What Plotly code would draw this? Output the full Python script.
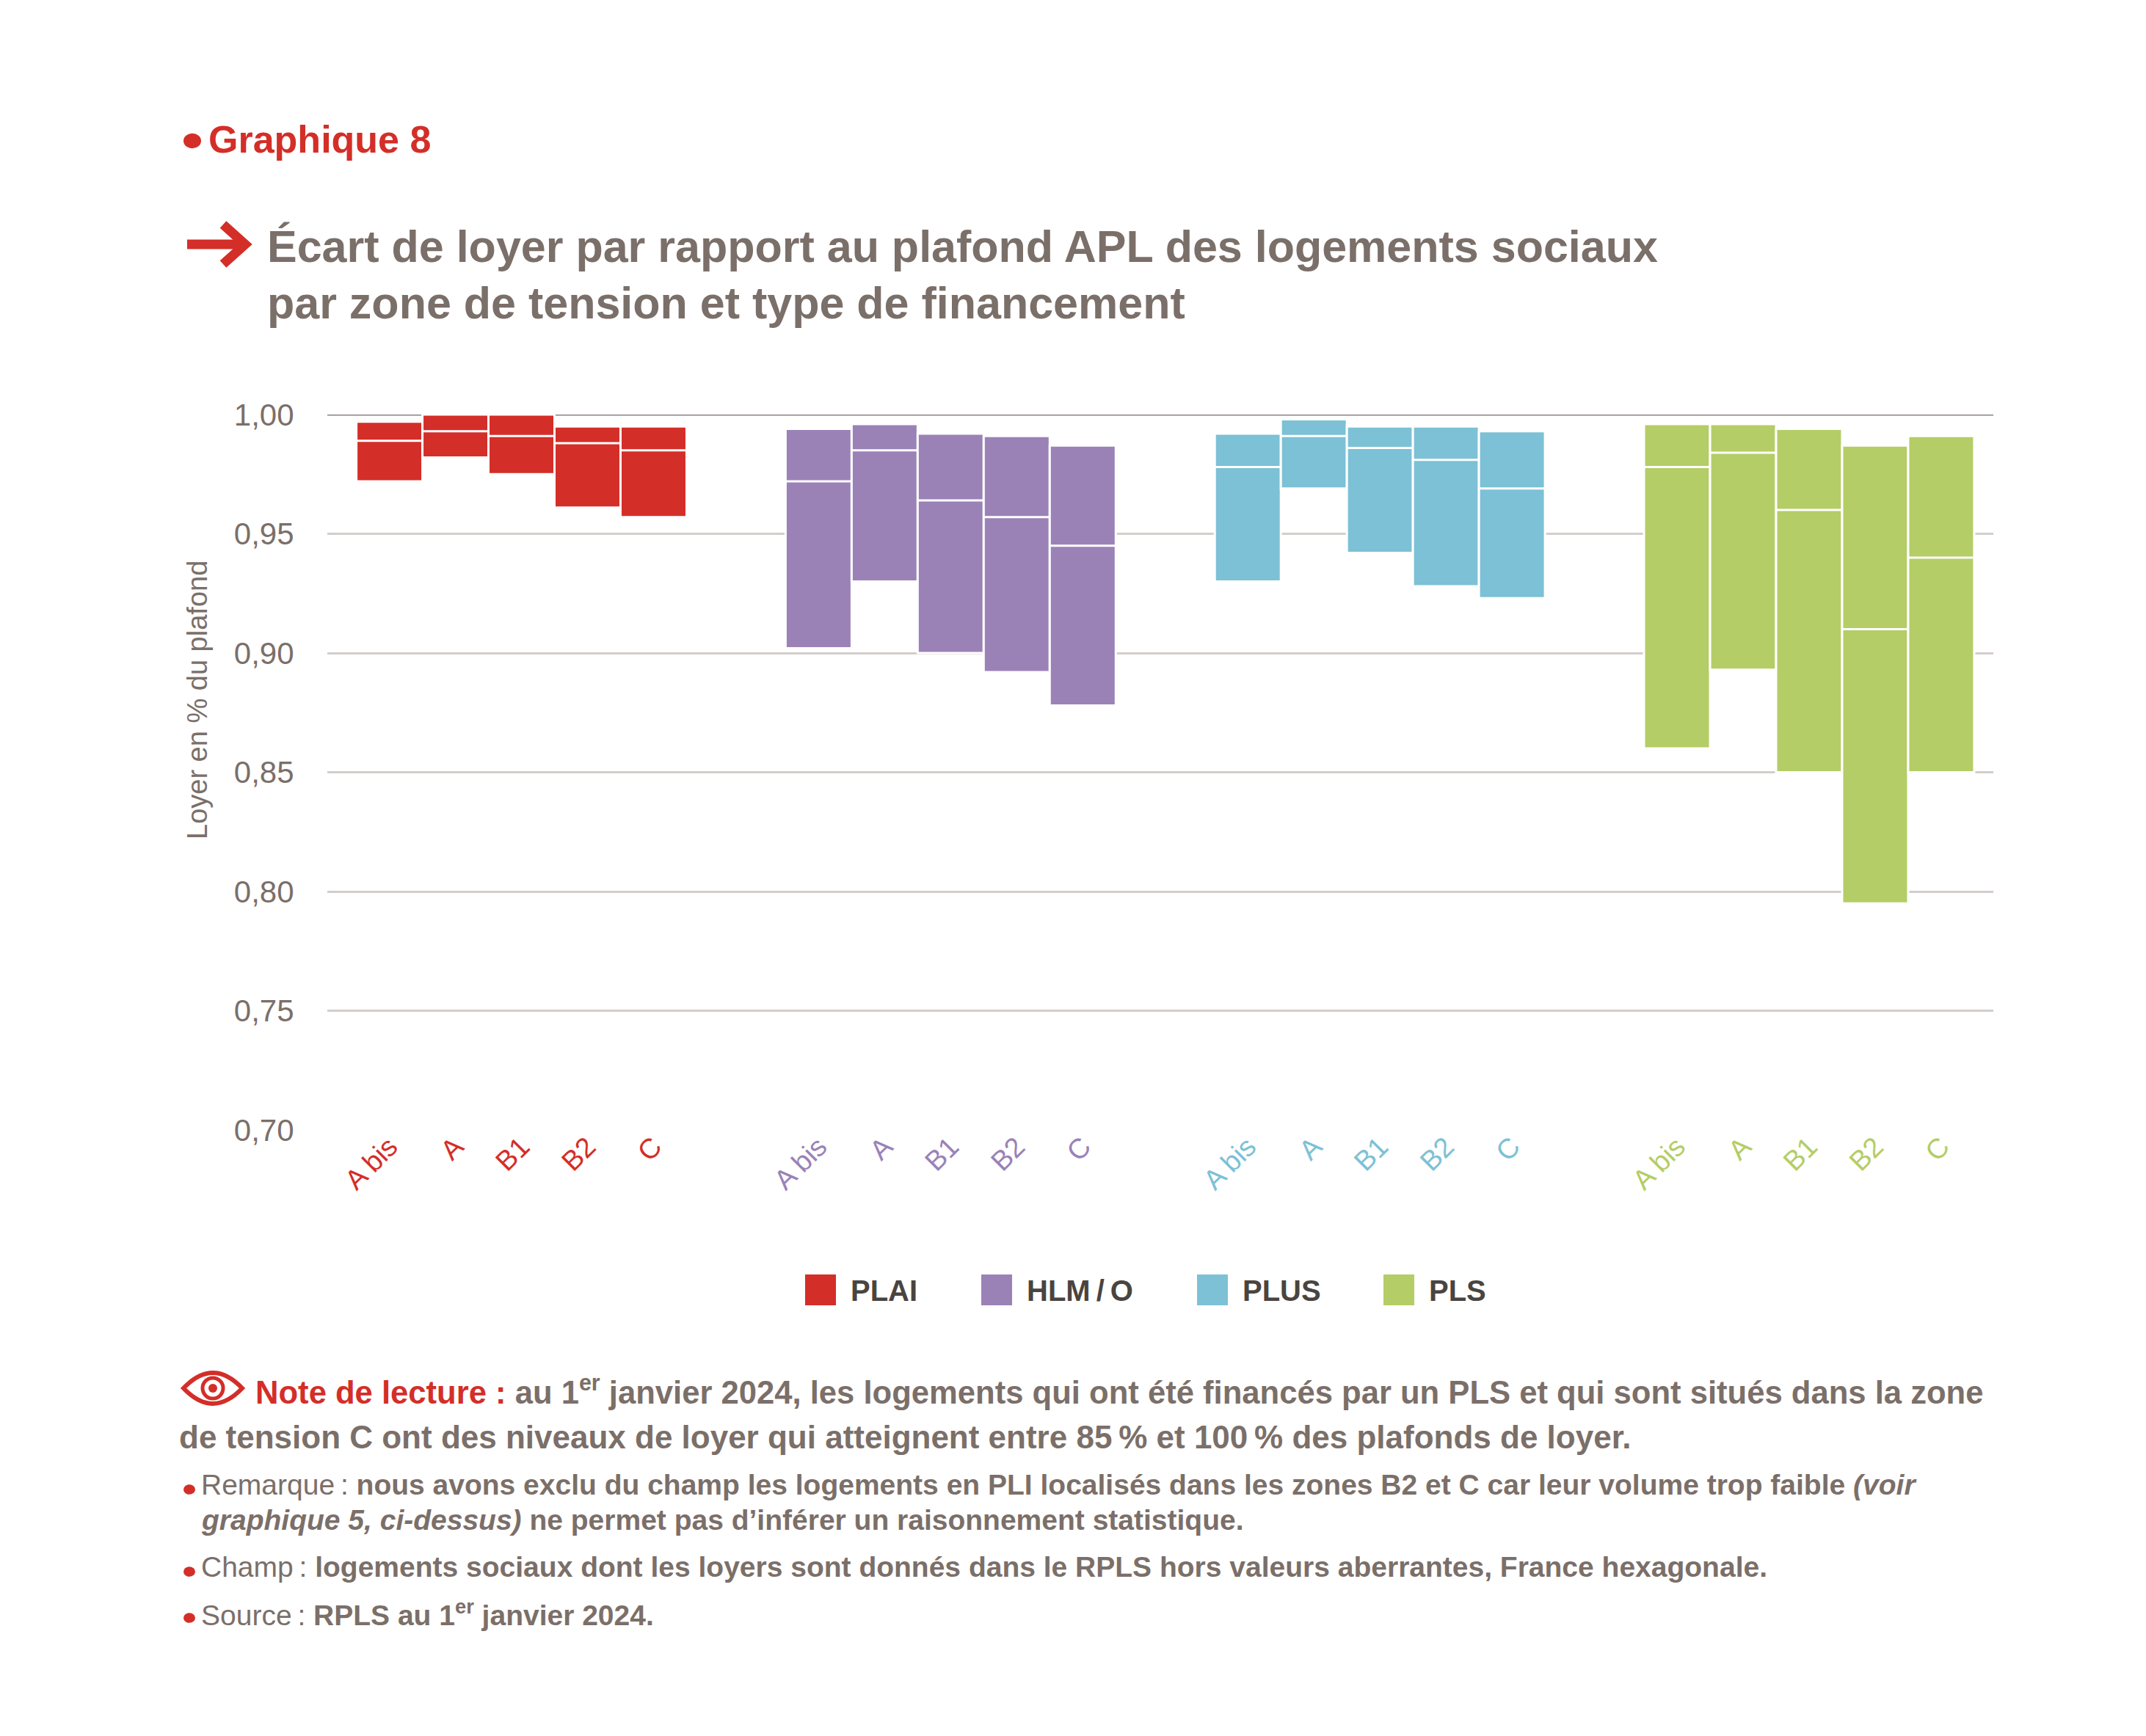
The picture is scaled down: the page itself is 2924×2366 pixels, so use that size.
import plotly.graph_objects as go

# données
zones = ["A bis", "A", "B1", "B2", "C"]
financements = ["PLAI", "HLM\u2009/\u2009O", "PLUS", "PLS"]
couleurs = ["#d42e28", "#9a82b7", "#7cc1d5", "#b4cd66"]

plai_haut = [0.997, 1.000, 1.000, 0.995, 0.995]
plai_med = [0.989, 0.993, 0.991, 0.988, 0.985]
plai_bas = [0.972, 0.982, 0.975, 0.961, 0.957]

hlm_haut = [0.994, 0.996, 0.992, 0.991, 0.987]
hlm_med = [0.972, 0.985, 0.964, 0.957, 0.945]
hlm_bas = [0.902, 0.930, 0.900, 0.892, 0.878]

plus_haut = [0.992, 0.998, 0.995, 0.995, 0.993]
plus_med = [0.978, 0.991, 0.986, 0.981, 0.969]
plus_bas = [0.930, 0.969, 0.942, 0.928, 0.923]

pls_haut = [0.996, 0.996, 0.994, 0.987, 0.991]
pls_med = [0.978, 0.984, 0.960, 0.910, 0.940]
pls_bas = [0.860, 0.893, 0.850, 0.795, 0.850]

y_ticks = [0.70, 0.75, 0.80, 0.85, 0.90, 0.95, 1.00]

hauts = [plai_haut, hlm_haut, plus_haut, pls_haut]
meds = [plai_med, hlm_med, plus_med, pls_med]
bas = [plai_bas, hlm_bas, plus_bas, pls_bas]

GRIS = "#7b6f69"
ROUGE = "#d42e28"
SANS = "Liberation Sans, Arial, sans-serif"

W, H = 2924, 2366
L, R, T, B = 438, 2708, 557, 1532
PAS = 6.5  # écart entre groupes, en largeur de barre


def px(x):
    return (x - L) / (R - L)


def py(y):
    return (B - y) / (B - T)


fig = go.Figure()
tickvals, ticktext = [], []
for g, nom in enumerate(financements):
    xs = [g * PAS + i for i in range(len(zones))]
    fig.add_trace(go.Box(
        x=xs, q1=bas[g], median=meds[g], q3=hauts[g],
        lowerfence=bas[g], upperfence=hauts[g],
        width=1, whiskerwidth=0, boxpoints=False,
        fillcolor=couleurs[g], line=dict(color="white", width=3),
        hoverinfo="skip", showlegend=False, name=nom,
    ))
    tickvals += xs
    ticktext += [f"<span style='color:{couleurs[g]}'>{z}</span>" for z in zones]

fig.update_layout(
    width=W, height=H,
    margin=dict(l=L, r=W - R, t=T, b=H - B),
    paper_bgcolor="white", plot_bgcolor="white",
    separators=", ",
    font=dict(family=SANS, color=GRIS),
    xaxis=dict(range=[-0.94, 24.29], tickvals=tickvals, ticktext=ticktext,
               tickangle=-45, tickfont=dict(size=38), showgrid=False,
               zeroline=False, showline=False, ticks="", ticklabelstandoff=-8),
    yaxis=dict(range=[0.70, 1.00], tickvals=y_ticks, tickformat=".2f",
               tickfont=dict(size=42, color=GRIS), gridcolor="#d3cecb",
               gridwidth=3, zeroline=False, showline=False, ticks="outside",
               ticklen=36, tickcolor="rgba(0,0,0,0)"),
)

# ligne du haut à 1,00
fig.add_shape(type="line", xref="paper", yref="y", x0=0, x1=1, y0=1, y1=1,
              line=dict(color="#8c817a", width=3), layer="below")


def texte(x, y, t, size, color=GRIS, xanchor="left", angle=0):
    fig.add_annotation(x=px(x), y=py(y), xref="paper", yref="paper", text=t,
                       showarrow=False, xanchor=xanchor, yanchor="middle",
                       textangle=angle, font=dict(size=size, color=color, family=SANS))


def puce(x, y, r):
    fig.add_shape(type="circle", xref="paper", yref="paper",
                  x0=px(x - r), x1=px(x + r), y0=py(y + r * 0.85), y1=py(y - r * 0.85),
                  fillcolor=ROUGE, line_width=0)


# titres
puce(254, 184, 12)
texte(274, 182, "<b>Graphique 8</b>", 52, ROUGE)
fig.add_shape(type="path", xref="paper", yref="paper",
              path=f"M {px(247)},{py(325)} L {px(318)},{py(325)}",
              line=dict(color=ROUGE, width=13))
fig.add_shape(type="path", xref="paper", yref="paper",
              path=f"M {px(296)},{py(298)} L {px(326)},{py(325)} L {px(296)},{py(352)}",
              line=dict(color=ROUGE, width=13))
texte(354, 328, "<b>Écart de loyer par rapport au plafond APL des logements sociaux</b>", 61)
texte(354, 405, "<b>par zone de tension et type de financement</b>", 61)

# titre de l'axe y
texte(261, 946, "Loyer en % du plafond", 38, xanchor="center", angle=-90)

# légende
leg_x = [1089, 1329, 1623, 1877]
for g, nom in enumerate(financements):
    fig.add_shape(type="rect", xref="paper", yref="paper",
                  x0=px(leg_x[g]), x1=px(leg_x[g] + 42), y0=py(1771), y1=py(1729),
                  fillcolor=couleurs[g], line_width=0)
    texte(leg_x[g] + 60, 1751, f"<b>{nom}</b>", 40, "#4a4440")

# oeil
ex, ey = 282, 1884
fig.add_shape(type="path", xref="paper", yref="paper",
              path=(f"M {px(ex-40)},{py(ey)} Q {px(ex)},{py(ey-42)} {px(ex+40)},{py(ey)} "
                    f"Q {px(ex)},{py(ey+42)} {px(ex-40)},{py(ey)} Z"),
              line=dict(color=ROUGE, width=6))
fig.add_shape(type="circle", xref="paper", yref="paper",
              x0=px(ex - 14), x1=px(ex + 14), y0=py(ey + 14), y1=py(ey - 14),
              line=dict(color=ROUGE, width=5))
fig.add_shape(type="circle", xref="paper", yref="paper",
              x0=px(ex - 6), x1=px(ex + 6), y0=py(ey + 6), y1=py(ey - 6),
              fillcolor=ROUGE, line_width=0)

texte(338, 1886, f"<b><span style='color:{ROUGE}'>Note de lecture :</span> au 1<sup>er</sup> "
      "janvier 2024, les logements qui ont été financés par un PLS "
      "et qui sont situés dans la zone</b>", 43.6)
texte(234, 1950, "<b>de tension C ont des niveaux de loyer qui atteignent entre 85\u2009% "
      "et 100\u2009% des plafonds de loyer.</b>", 44)

puce(250, 2022, 8)
texte(264, 2015, "Remarque\u2009: <b>nous avons exclu du champ les logements en PLI localisés dans "
      "les zones B2 et C car leur volume trop faible <i>(voir</i></b>", 39)
texte(264, 2063, "<b><i>graphique 5, ci-dessus)</i> ne permet pas d’inférer un raisonnement "
      "statistique.</b>", 39)
puce(250, 2134, 8)
texte(264, 2127, "Champ\u2009: <b>logements sociaux dont les loyers sont donnés dans le RPLS hors "
      "valeurs aberrantes, France hexagonale.</b>", 39)
puce(250, 2197, 8)
texte(264, 2190, "Source\u2009: <b>RPLS au 1<sup>er</sup> janvier 2024.</b>", 39)

fig.write_html("out.html")
